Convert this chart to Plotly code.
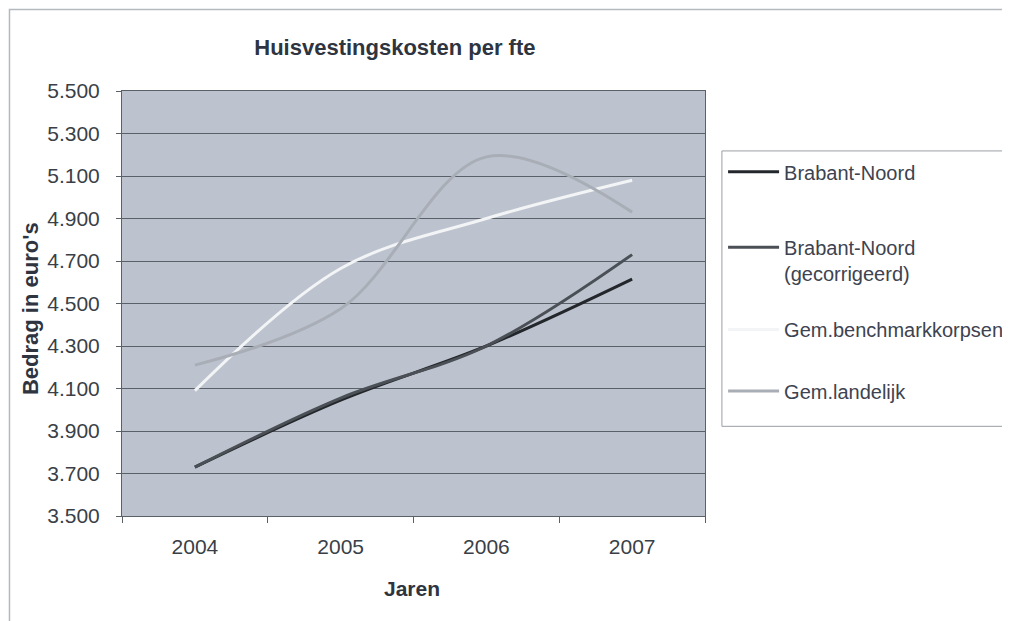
import plotly.graph_objects as go

# data
jaren = ["2004", "2005", "2006", "2007"]
brabant_noord = [3730, 4045, 4300, 4615]
brabant_noord_gecorr = [3730, 4055, 4300, 4730]
gem_benchmark = [4090, 4665, 4900, 5080]
gem_landelijk = [4210, 4475, 5190, 4930]

series = [
    ("Brabant-Noord", brabant_noord, "#23272c"),
    ("Brabant-Noord<br>(gecorrigeerd)", brabant_noord_gecorr, "#4b5056"),
    ("Gem.benchmarkkorpsen", gem_benchmark, "#f2f4f6"),
    ("Gem.landelijk", gem_landelijk, "#a9aeb6"),
]
legend_ids = ["legend", "legend2", "legend3", "legend4"]
legend_tops = [0.856, 0.678, 0.485, 0.340]

fig = go.Figure()
for i, (name, vals, col) in enumerate(series):
    fig.add_trace(go.Scatter(
        x=jaren, y=vals, name=name, mode="lines",
        line=dict(color=col, width=3, shape="spline", smoothing=1),
        legend=legend_ids[i],
    ))

font = "Liberation Sans, Arial, sans-serif"
leg_style = dict(xanchor="left", yanchor="top", bgcolor="rgba(0,0,0,0)", borderwidth=0,
                 font=dict(size=20, color="#3d4350"), valign="top", itemwidth=51)
# page body has an 8px margin, so the margins are offset by 8
fig.update_layout(
    width=1010, height=621,
    margin=dict(l=114, r=313, t=83, b=113, autoexpand=False),
    paper_bgcolor="white",
    plot_bgcolor="#bcc3ce",
    separators=",.",
    font=dict(family=font, size=21, color="#3a3f47"),
    title=dict(text="<b>Huisvestingskosten per fte</b>", x=0.468, xref="paper",
               xanchor="center", y=1 - 39 / 621, yref="container", yanchor="middle",
               font=dict(size=22, color="#2e3440")),
    showlegend=True,
)
for lid, top in zip(legend_ids, legend_tops):
    fig.update_layout({lid: dict(x=1.031, y=top, **leg_style)})

fig.update_xaxes(
    type="category", range=[-0.5, 3.5], showgrid=False,
    showline=True, linecolor="#5a6068", linewidth=1, mirror=True,
    ticks="outside", tickson="boundaries", ticklen=6, tickcolor="#5a6068",
    tickfont=dict(size=21), ticklabelstandoff=12,
)
fig.update_yaxes(
    range=[3500, 5500], dtick=200, tick0=3500, tickformat=",.0f",
    showgrid=True, gridcolor="#5a6068", gridwidth=1,
    showline=True, linecolor="#5a6068", linewidth=1, mirror=True,
    ticks="outside", ticklen=5, tickcolor="#5a6068", zeroline=False,
    tickfont=dict(size=21), ticklabelstandoff=12,
)

fig.add_annotation(text="<b>Bedrag in euro's</b>", textangle=-90, x=-0.158, y=0.489,
                   xref="paper", yref="paper", xanchor="center", yanchor="middle",
                   showarrow=False, font=dict(size=22, color="#2e3440"))
fig.add_annotation(text="<b>Jaren</b>", x=0.497, y=-0.171, xref="paper", yref="paper",
                   xanchor="center", yanchor="middle",
                   showarrow=False, font=dict(size=21, color="#2e3440"))

# outer chart frame
fig.add_shape(type="rect", xref="paper", yref="paper", x0=-0.193, x1=1.7, y0=-0.4, y1=1.192,
              line=dict(color="#b5b8bc", width=1.5), layer="below")
# legend box
fig.add_shape(type="rect", xref="paper", yref="paper", x0=1.029, x1=1.7, y0=0.211, y1=0.859,
              line=dict(color="#9a9ea4", width=1), fillcolor="white", layer="below")

fig.write_html("out.html")
